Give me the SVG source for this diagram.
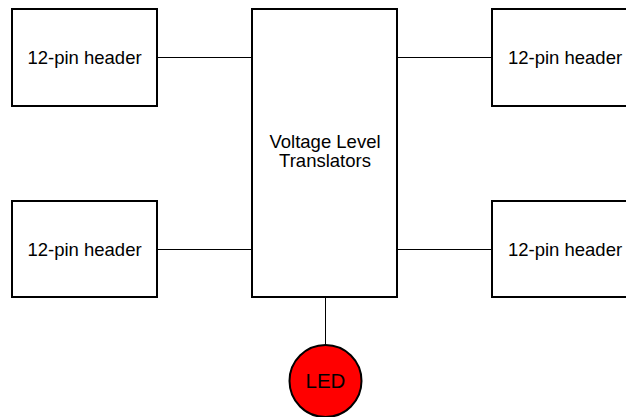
<svg xmlns="http://www.w3.org/2000/svg" width="626" height="417" viewBox="0 0 626 417">
<style>
.box{fill:#fff;stroke:#000;stroke-width:2}
.t{font-family:"Liberation Sans",Arial,sans-serif;font-size:18.5px;fill:#000;text-anchor:middle}
.c{stroke:#000;stroke-width:1;fill:none}
</style>
<rect width="626" height="417" fill="#fff"/>
<g id="connectors">
<line class="c" x1="157" y1="57.5" x2="252" y2="57.5"/>
<line class="c" x1="157" y1="249.5" x2="252" y2="249.5"/>
<line class="c" x1="397" y1="57.5" x2="492" y2="57.5"/>
<line class="c" x1="397" y1="249.5" x2="492" y2="249.5"/>
<line class="c" x1="325.5" y1="297" x2="325.5" y2="345"/>
</g>
<g id="hdr-tl"><rect class="box" x="12" y="9" width="145" height="97"/><text class="t" x="84.5" y="64">12-pin header</text></g>
<g id="hdr-bl"><rect class="box" x="12" y="201" width="145" height="96"/><text class="t" x="84.5" y="256">12-pin header</text></g>
<g id="vlt"><rect class="box" x="252" y="9" width="145" height="288"/><text class="t" x="325" y="148">Voltage Level</text><text class="t" x="325" y="167">Translators</text></g>
<g id="hdr-tr"><rect class="box" x="492" y="9" width="145" height="97"/><text class="t" x="565" y="64">12-pin header</text></g>
<g id="hdr-br"><rect class="box" x="492" y="201" width="145" height="96"/><text class="t" x="565" y="256">12-pin header</text></g>
<g id="led"><circle cx="325.5" cy="381" r="36" fill="#ff0000" stroke="#000" stroke-width="2"/><text class="t" x="325.5" y="388" style="font-size:20.5px">LED</text></g>
</svg>
